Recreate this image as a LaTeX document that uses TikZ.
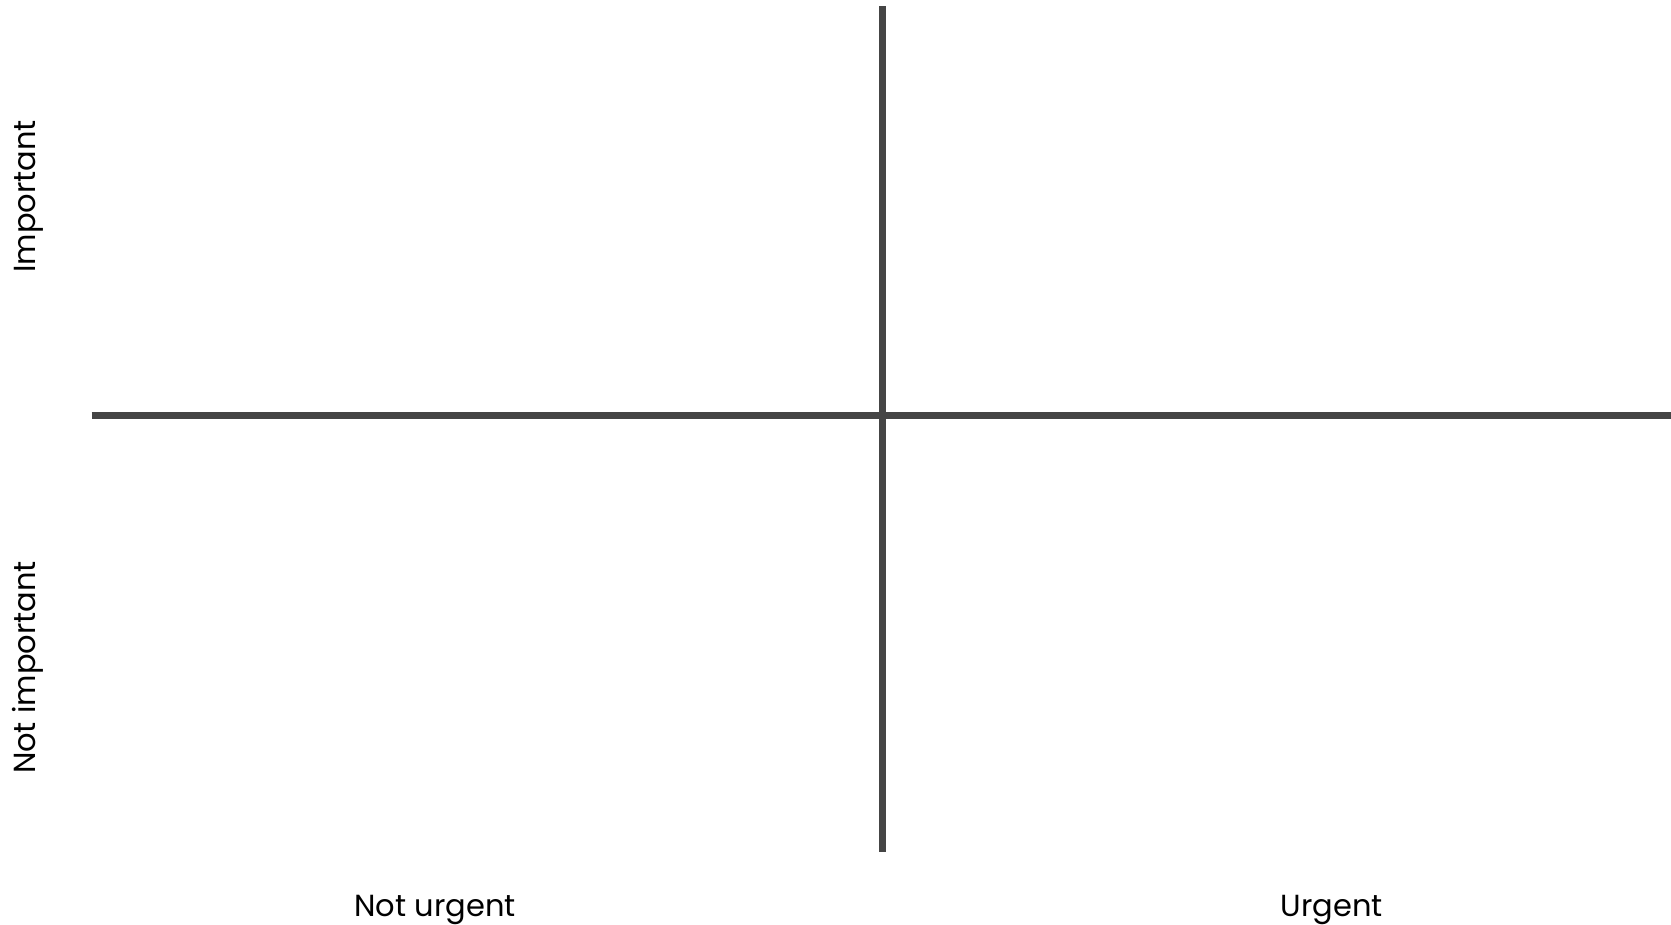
\documentclass[tikz,border=0pt]{standalone}
\usepackage{fontspec}
\setmainfont{Poppins}
\usepackage{xcolor}
\definecolor{axisgray}{HTML}{454545}

\begin{document}
\begin{tikzpicture}[x=1pt, y=-1pt,
        axis/.style={draw=axisgray, line width=7pt},
        label/.style={font=\fontsize{30.5}{34}\selectfont, text=black, anchor=base, inner sep=0pt}]
        \useasboundingbox (0,0) rectangle (1671,925);
        % axes
        \coordinate (top) at (882,6.5);
        \coordinate (bottom) at (882,852);
        \coordinate (left) at (91.5,415);
        \coordinate (right) at (1671,415);
        \draw[axis] (top) -- (bottom);
        \draw[axis] (left) -- (right);
        % labels
        \node[label, rotate=90] (imp) at (35,196.5) {Important};
        \node[label, rotate=90] (notimp) at (35,667.5) {Not important};
        \node[label] (noturg) at (435,916) {Not urgent};
        \node[label] (urg) at (1332,916) {Urgent};
    \end{tikzpicture}
\end{document}
